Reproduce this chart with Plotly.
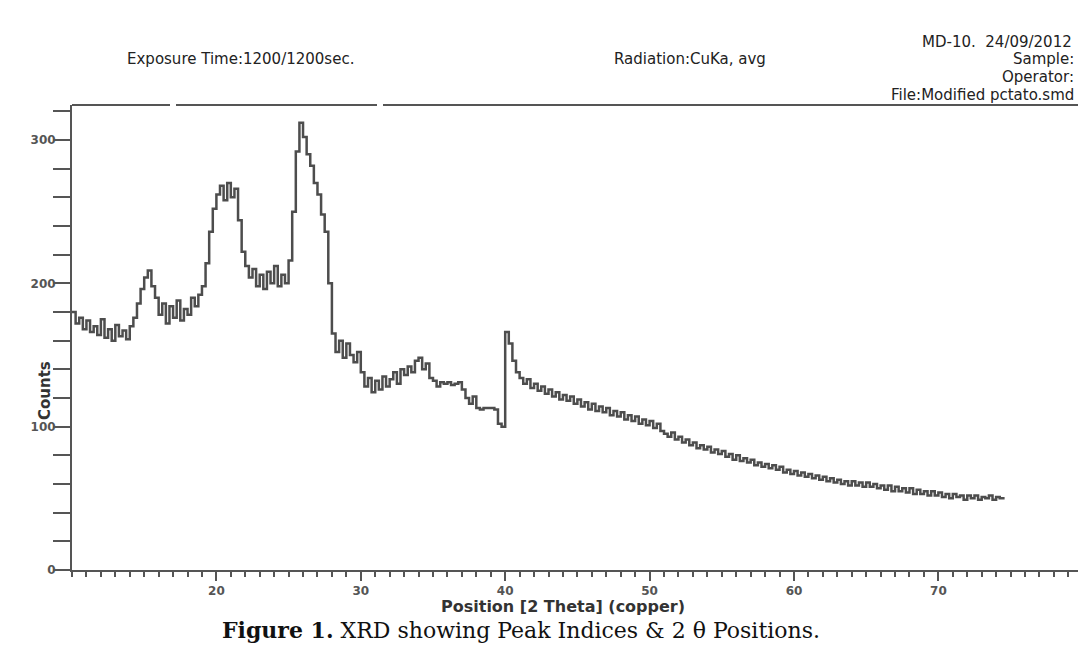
import plotly.graph_objects as go

# 2-theta grid (degrees) and counts
two_theta_start = 10.0
two_theta_step = 0.25
counts = [
    # 10.0 - 14.75
    180, 172, 176, 168, 174, 166, 170, 164, 175, 162, 168, 160, 171, 163, 167, 161, 170, 176, 186, 196,
    # 15.0 - 19.75
    204, 209, 198, 190, 178, 186, 172, 184, 176, 188, 174, 182, 178, 190, 184, 192, 198, 214, 236, 252,
    # 20.0 - 24.75
    262, 268, 258, 270, 260, 266, 244, 222, 212, 204, 210, 198, 206, 196, 208, 200, 212, 198, 206, 200,
    # 25.0 - 29.75
    216, 250, 292, 312, 302, 290, 282, 270, 262, 248, 236, 200, 165, 152, 160, 148, 158, 150, 145, 152,
    # 30.0 - 34.75
    138, 128, 134, 124, 132, 126, 135, 128, 133, 138, 130, 140, 136, 142, 138, 146, 148, 140, 144, 134,
    # 35.0 - 39.75
    132, 128, 131, 130, 131, 129, 130, 131, 126, 120, 116, 121, 113, 112, 113, 113, 113, 112, 102, 100,
    # 40.0 - 44.75
    166, 158, 146, 138, 134, 130, 133, 127, 130, 125, 128, 123, 126, 121, 124, 119, 122, 118, 121, 116,
    # 45.0 - 49.75
    119, 114, 117, 112, 116, 111, 114, 110, 113, 108, 111, 107, 110, 105, 108, 104, 107, 102, 105, 101,
    # 50.0 - 54.75
    104, 99, 102, 97, 95, 93, 96, 91, 93, 89, 91, 87, 89, 85, 87, 84, 86, 82, 84, 81,
    # 55.0 - 59.75
    83, 79, 81, 77, 80, 76, 78, 75, 77, 73, 75, 72, 74, 71, 73, 70, 72, 68, 70, 67,
    # 60.0 - 64.75
    69, 66, 68, 65, 67, 64, 66, 63, 65, 62, 64, 61, 63, 60, 62, 59, 62, 59, 61, 58,
    # 65.0 - 69.75
    61, 58, 60, 57, 59, 56, 59, 55, 58, 55, 57, 54, 57, 53, 56, 53, 55, 52, 55, 52,
    # 70.0 - 74.5
    54, 51, 53, 50, 53, 51, 52, 49, 52, 50, 52, 49, 51, 50, 52, 49, 51, 50, 51,
]
two_theta = [two_theta_start + i * two_theta_step for i in range(len(counts))]

x_tick_vals = [20, 30, 40, 50, 60, 70]
y_tick_vals = [0, 100, 200, 300]

header_lines = [
    ("MD-10.  24/09/2012", "right", 1074, 42),
    ("Exposure Time:1200/1200sec.", "left", 125, 59),
    ("Radiation:CuKa, avg", "left", 612, 59),
    ("Sample:", "right", 1076, 59),
    ("Operator:", "right", 1076, 77),
    ("File:Modified pctato.smd", "right", 1076, 95),
]

# figure geometry (pixels)
W, H = 1078, 645
ML, MR, MT, MB = 72, 0, 105, 75
PW, PH = W - ML - MR, H - MT - MB


def px(xpix):
    return (xpix - ML) / PW


def py(ypix):
    return (H - MB - ypix) / PH


fig = go.Figure()
fig.add_trace(go.Scatter(
    x=two_theta, y=counts, mode="lines",
    line=dict(color="#4d4d4d", width=2.5, shape="hv"),
    showlegend=False, hoverinfo="x+y",
))

axis_col = "#555555"
fig.update_layout(
    width=W, height=H,
    margin=dict(l=ML, r=MR, t=MT, b=MB),
    paper_bgcolor="white", plot_bgcolor="white",
    font=dict(family="DejaVu Sans", color="#333333"),
    xaxis=dict(
        range=[10.0, 79.67], showgrid=False, zeroline=False,
        showline=True, linecolor=axis_col, linewidth=2,
        ticks="outside", ticklen=9, tickwidth=2, tickcolor=axis_col,
        tickvals=x_tick_vals,
        tickfont=dict(family="DejaVu Sans", size=12, color="#555555", weight="bold"),
        minor=dict(dtick=1, ticks="outside", ticklen=5, tickwidth=2, tickcolor=axis_col),
    ),
    yaxis=dict(
        range=[0, 324.4], showgrid=False, zeroline=False,
        showline=True, linecolor=axis_col, linewidth=2,
        ticks="outside", ticklen=12, tickwidth=2, tickcolor=axis_col,
        tickvals=y_tick_vals,
        tickfont=dict(family="DejaVu Sans", size=12, color="#555555", weight="bold"),
        minor=dict(dtick=20, ticks="outside", ticklen=17, tickwidth=2, tickcolor=axis_col),
    ),
)

# top frame line with small breaks as in the scan
for x0, x1 in [(72, 170), (176, 377), (383, 1078)]:
    fig.add_shape(type="line", xref="paper", yref="paper",
                  x0=px(x0), x1=px(x1), y0=1, y1=1,
                  line=dict(color=axis_col, width=2))

for text, anchor, xpix, ypix in header_lines:
    fig.add_annotation(text=text, xref="paper", yref="paper",
                       x=px(xpix), y=py(ypix), xanchor=anchor, yanchor="middle",
                       showarrow=False,
                       font=dict(family="DejaVu Sans", size=15, color="#222222"))

fig.add_annotation(text="Counts", xref="paper", yref="paper",
                   x=px(45), y=py(391), xanchor="center", yanchor="middle",
                   textangle=-90, showarrow=False,
                   font=dict(family="DejaVu Sans", size=15, color="#333333", weight="bold"))

fig.add_annotation(text="Position [2 Theta] (copper)", xref="paper", yref="paper",
                   x=px(563), y=py(606), xanchor="center", yanchor="middle",
                   showarrow=False,
                   font=dict(family="DejaVu Sans", size=16, color="#333333", weight="bold"))

fig.add_annotation(text="<b>Figure 1.</b> XRD showing Peak Indices &amp; 2 θ Positions.",
                   xref="paper", yref="paper",
                   x=px(521), y=py(644), xanchor="center", yanchor="bottom",
                   showarrow=False, borderpad=0,
                   font=dict(family="DejaVu Serif", size=22, color="#111111"))

fig.write_html(
    "out.html",
    config={"displayModeBar": False},
    post_script="document.body.style.margin='0';document.body.style.overflow='hidden';",
)
